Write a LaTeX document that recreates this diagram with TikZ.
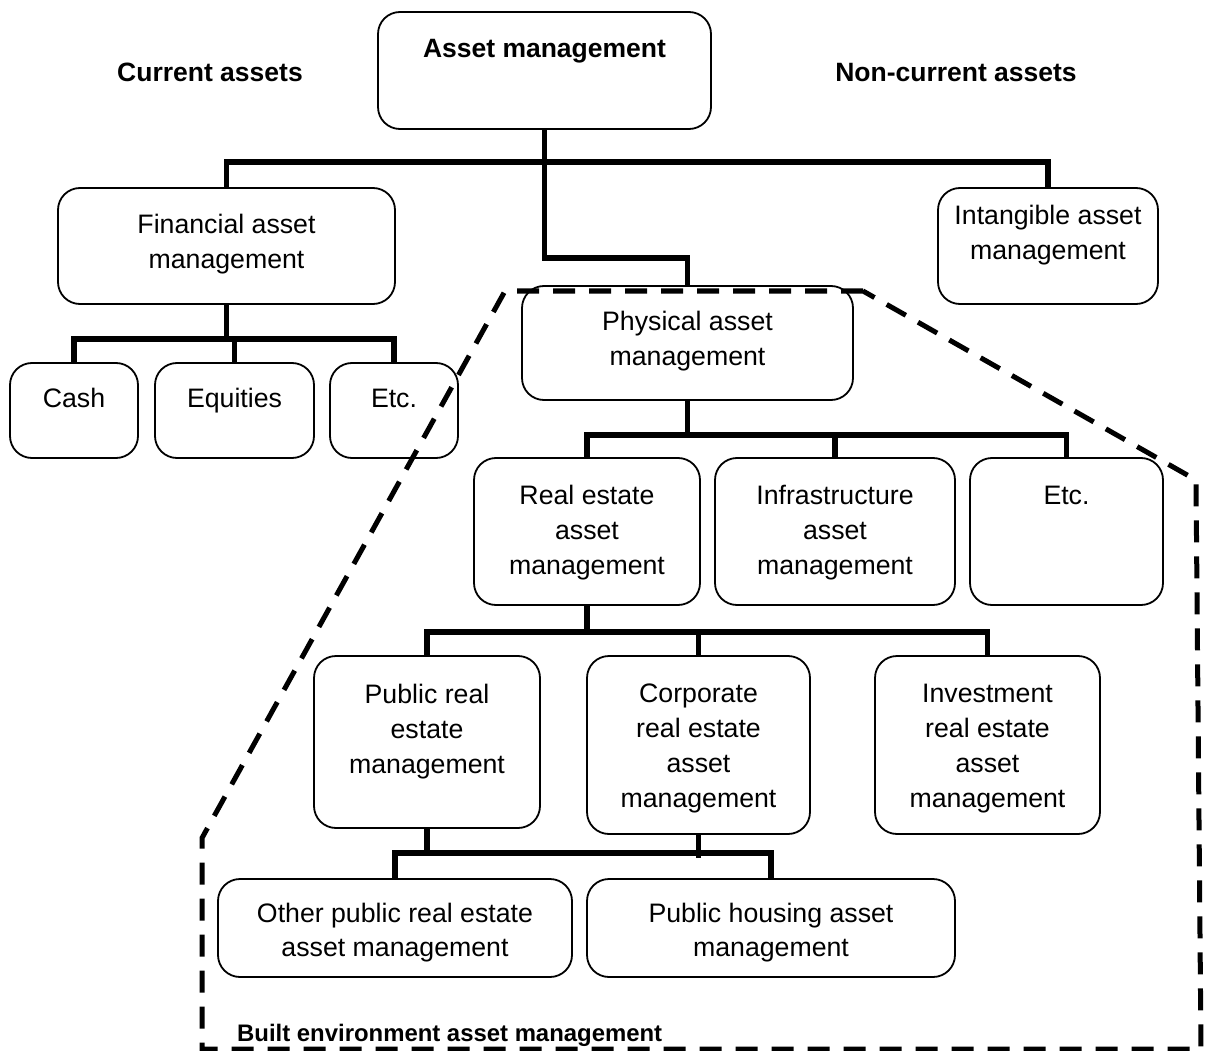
\documentclass[tikz,border=0pt]{standalone}
\usepackage{fontspec}
\setmainfont{Liberation Sans}
\begin{document}
\begin{tikzpicture}[x=1pt,y=-1pt,
  box/.style={draw, line width=1.8pt, rounded corners=22pt, fill=white, inner sep=0pt},
  txt/.style={align=center, inner sep=0pt, font=\fontsize{26.7pt}{34.8pt}\selectfont},
  one/.style={text height=19pt, text depth=0pt},
  head/.style={inner sep=0pt, text height=19pt, text depth=0pt, font=\fontsize{26.5pt}{32pt}\selectfont\bfseries},
  bus/.style={line width=5.5pt, line join=miter},
  fence/.style={line width=5pt, dash pattern=on 22pt off 14pt}]
\useasboundingbox (0,0) rectangle (1208,1051);

% boxes
\node[box, minimum width=333pt, minimum height=117pt] (am) at (544.5,70.5) {};
\node[box, minimum width=337pt, minimum height=116pt] (fin) at (226.5,246) {};
\node[box, minimum width=220pt, minimum height=116pt] (intan) at (1048,246) {};
\node[box, minimum width=128pt, minimum height=95pt] (cash) at (74,410.5) {};
\node[box, minimum width=159pt, minimum height=95pt] (eq) at (234.5,410.5) {};
\node[box, minimum width=128pt, minimum height=95pt] (etca) at (394,410.5) {};
\node[box, minimum width=331pt, minimum height=114pt] (phys) at (687.5,343) {};
\node[box, minimum width=226pt, minimum height=147pt] (re) at (587,531.5) {};
\node[box, minimum width=240pt, minimum height=147pt] (infra) at (835,531.5) {};
\node[box, minimum width=193pt, minimum height=147pt] (etcb) at (1066.5,531.5) {};
\node[box, minimum width=226pt, minimum height=172pt] (pub) at (427,742) {};
\node[box, minimum width=223pt, minimum height=178pt] (corp) at (698.5,745) {};
\node[box, minimum width=225pt, minimum height=178pt] (inv) at (987.5,745) {};
\node[box, minimum width=354pt, minimum height=98pt] (other) at (395,928) {};
\node[box, minimum width=368pt, minimum height=98pt] (house) at (771,928) {};

% box texts
\node[head] (t-am) at (544.5,48) {Asset management};
\node[txt] (t-fin) at (226.5,244) {Financial asset\\management};
\node[txt] (t-intan) at (1048,235) {Intangible asset\\management};
\node[txt, one] (t-cash) at (74,398) {Cash};
\node[txt, one] (t-eq) at (234.5,398) {Equities};
\node[txt, one] (t-etca) at (394,398) {Etc.};
\node[txt] (t-phys) at (687.5,341) {Physical asset\\management};
\node[txt] (t-re) at (587,532.5) {Real estate\\asset\\management};
\node[txt] (t-infra) at (835,532.5) {Infrastructure\\asset\\management};
\node[txt, one] (t-etcb) at (1066.5,495) {Etc.};
\node[txt] (t-pub) at (427,731.5) {Public real\\estate\\management};
\node[txt] (t-corp) at (698.5,748.5) {Corporate\\real estate\\asset\\management};
\node[txt] (t-inv) at (987.5,748.5) {Investment\\real estate\\asset\\management};
\node[txt] (t-other) at (395,932.5) {Other public real estate\\asset management};
\node[txt] (t-house) at (771,932.5) {Public housing asset\\management};

% side headings
\node[head] (cur) at (210,72) {Current assets};
\node[head] (noncur) at (956,72) {Non-current assets};
\node[inner sep=0pt, anchor=west, text height=17pt, text depth=0pt, font=\fontsize{23.9pt}{28pt}\selectfont\bfseries] (bea) at (237,1033) {Built environment asset management};

% tree connectors
\coordinate (j1) at (544.5,162);
\coordinate (k1) at (544.5,258);
\draw[bus] (am.south) -- (j1) -- (k1) -| (phys.north);
\draw[bus] (fin.north) |- (j1) -| (intan.north);

\coordinate (j2) at (226.5,339);
\draw[bus] (fin.south) -- (j2);
\draw[bus] (cash.north) |- (j2) -| (etca.north);
\draw[bus] (eq.north) -- (eq.north |- j2);

\coordinate (j3) at (687.5,435);
\draw[bus] (phys.south) -- (j3);
\draw[bus] (re.north) |- (j3) -| (etcb.north);
\draw[bus] (infra.north) -- (infra.north |- j3);

\coordinate (j4) at (587,632);
\draw[bus] (re.south) -- (j4);
\draw[bus] (pub.north) |- (j4) -| (inv.north);
\draw[bus] (corp.north) -- (corp.north |- j4);

\coordinate (j5) at (427,853);
\draw[bus] (pub.south) -- (j5);
\draw[bus] (other.north) |- (j5) -| (house.north);
\coordinate (c5) at (698.5,858);
\draw[bus] (corp.south) -- (c5);

% built environment boundary
\coordinate (f1) at (863,291);
\coordinate (f2) at (505,291);
\coordinate (f3) at (202,838);
\coordinate (f4) at (202,1049);
\coordinate (f5) at (1201,1049);
\coordinate (f6) at (1196,480);
\draw[fence] (f1) -- (f2) -- (f3) -- (f4) -- (f5) -- (f6) -- cycle;
\end{tikzpicture}
\end{document}
